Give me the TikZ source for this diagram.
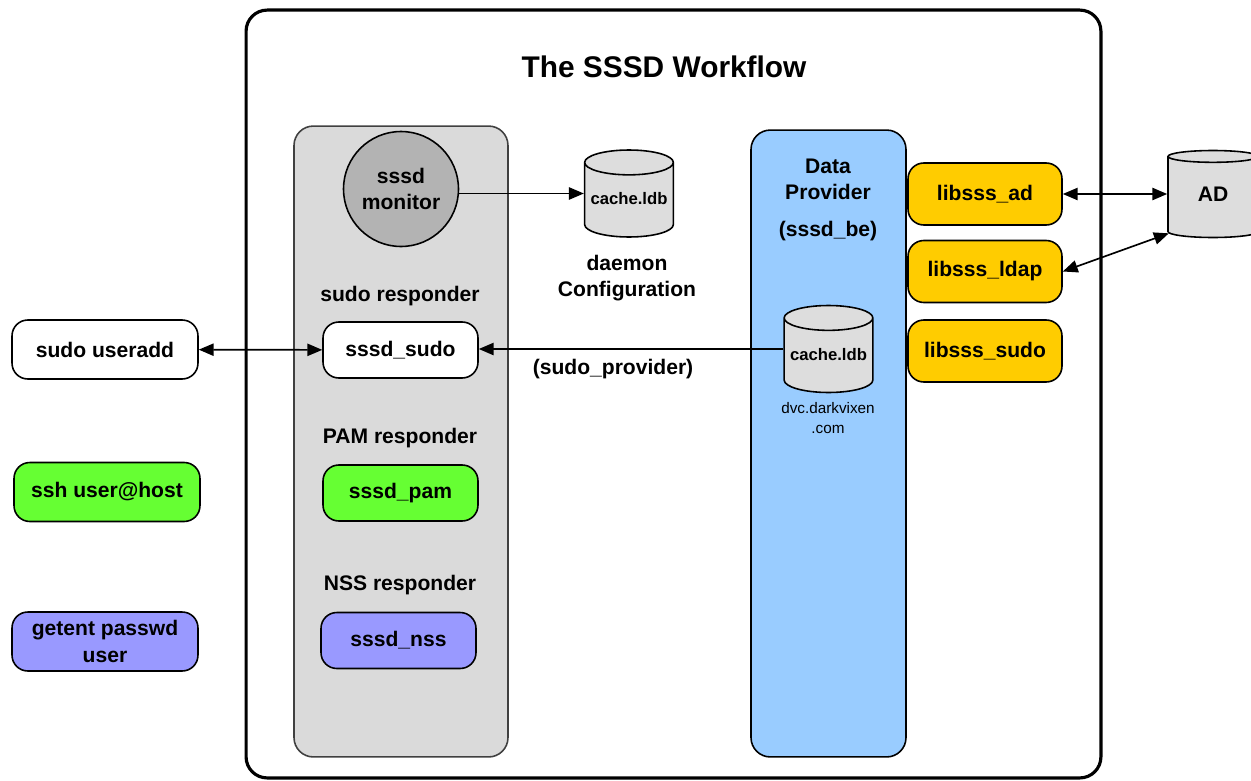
\documentclass[tikz,border=0pt]{standalone}
\usepackage{fontspec}
\setmainfont{Liberation Sans}
\usetikzlibrary{shapes.geometric,arrows.meta}
\definecolor{panelgray}{HTML}{DADADA}
\definecolor{dbgray}{HTML}{DDDDDD}
\definecolor{mongray}{HTML}{B3B3B3}
\definecolor{provblue}{HTML}{99CCFF}
\definecolor{libyellow}{HTML}{FFCC00}
\definecolor{pamgreen}{HTML}{66FF33}
\definecolor{nsspurple}{HTML}{9999FF}
\newcommand{\dbtext}[1]{\raisebox{5pt}{#1}}
\tikzset{
  lbl/.style={font=\bfseries\fontsize{12}{15}\selectfont,align=center},
  box/.style={lbl,draw,line width=0.9pt,rounded corners=9pt,minimum width=3.1cm,minimum height=1.12cm},
  cmdbox/.style={box,minimum width=3.72cm,minimum height=1.18cm},
  libbox/.style={box,fill=libyellow,minimum width=3.08cm,minimum height=1.24cm},
  panel/.style={draw,line width=0.9pt,rounded corners=11pt},
  db/.style={draw,line width=0.9pt,fill=dbgray,cylinder,shape border rotate=90,aspect=0.28,anchor=shape center,
    minimum width=1.76cm,minimum height=1.74cm,font=\bfseries\fontsize{9.5}{11}\selectfont},
  arr/.style={line width=0.95pt,-{Triangle[length=8.5pt,width=7pt]}},
  darr/.style={line width=0.95pt,{Triangle[length=8.5pt,width=7pt]}-{Triangle[length=8.5pt,width=7pt]}}
}
\begin{document}
\begin{tikzpicture}[x=0.02cm,y=-0.02cm]
\useasboundingbox (0,0) rectangle (1251,781);
% frame and panels
\node[panel,line width=1.8pt,rounded corners=12pt,minimum width=17.1cm,minimum height=15.36cm] (frame) at (673.5,394) {};
\node[lbl,font=\bfseries\fontsize{17}{20}\selectfont] (title) at (664,67) {The SSSD Workflow};
\node[panel,fill=panelgray,draw=black!75,minimum width=4.28cm,minimum height=12.62cm] (resp) at (401,441.5) {};
\node[panel,fill=provblue,minimum width=3.1cm,minimum height=12.54cm] (prov) at (828.5,443.5) {};
% responders
\node[lbl,draw,line width=0.9pt,circle,fill=mongray,minimum size=2.3cm] (mon) at (401,189) {sssd\\monitor};
\node[db] (cache) at (629,193.5) {\dbtext{cache.ldb}};
\node[lbl] (conf) at (627,278) {daemon\\Configuration};
\node[lbl] (sudolbl) at (400,296) {sudo responder};
\node[box,fill=white] (sudo) at (400.5,350) {sssd\_sudo};
\node[lbl] (provlbl) at (613,369) {(sudo\_provider)};
\node[lbl] (pamlbl) at (400,438) {PAM responder};
\node[box,fill=pamgreen] (pam) at (400.5,493) {sssd\_pam};
\node[lbl] (nsslbl) at (400,585) {NSS responder};
\node[box,fill=nsspurple] (nss) at (398.5,640.5) {sssd\_nss};
% data provider
\node[lbl] (dp) at (828,200) {Data\\Provider\\[6pt](sssd\_be)};
\node[db] (cache2) at (828.5,349) {\dbtext{cache.ldb}};
\node[align=center,font=\fontsize{8.7}{11}\selectfont] (dom) at (828,418) {dvc.darkvixen\\.com};
\node[libbox] (ad) at (985,194) {libsss\_ad};
\node[libbox] (ldap) at (985,271.5) {libsss\_ldap};
\node[libbox] (lsudo) at (985,351) {libsss\_sudo};
\node[db,font=\bfseries\fontsize{12}{14}\selectfont,minimum width=1.8cm] (AD) at (1213,194) {\dbtext{AD}};
% commands
\node[cmdbox,fill=white] (useradd) at (105,349.5) {sudo useradd};
\node[cmdbox,fill=pamgreen] (ssh) at (107,492) {ssh user@host};
\node[cmdbox,fill=nsspurple] (getent) at (105,641.5) {getent passwd\\user};
% connectors
\draw[arr] (mon.east |- cache.shape center) -- (cache.west |- cache.shape center);
\draw[darr] (useradd) -- (sudo);
\draw[arr] (cache2.west |- cache2.shape center) -- (sudo.east |- cache2.shape center);
\draw[darr] (ad.east) -- (AD.west |- ad.east);
\draw[darr] (ldap.east) -- (AD.218);
\end{tikzpicture}
\end{document}
